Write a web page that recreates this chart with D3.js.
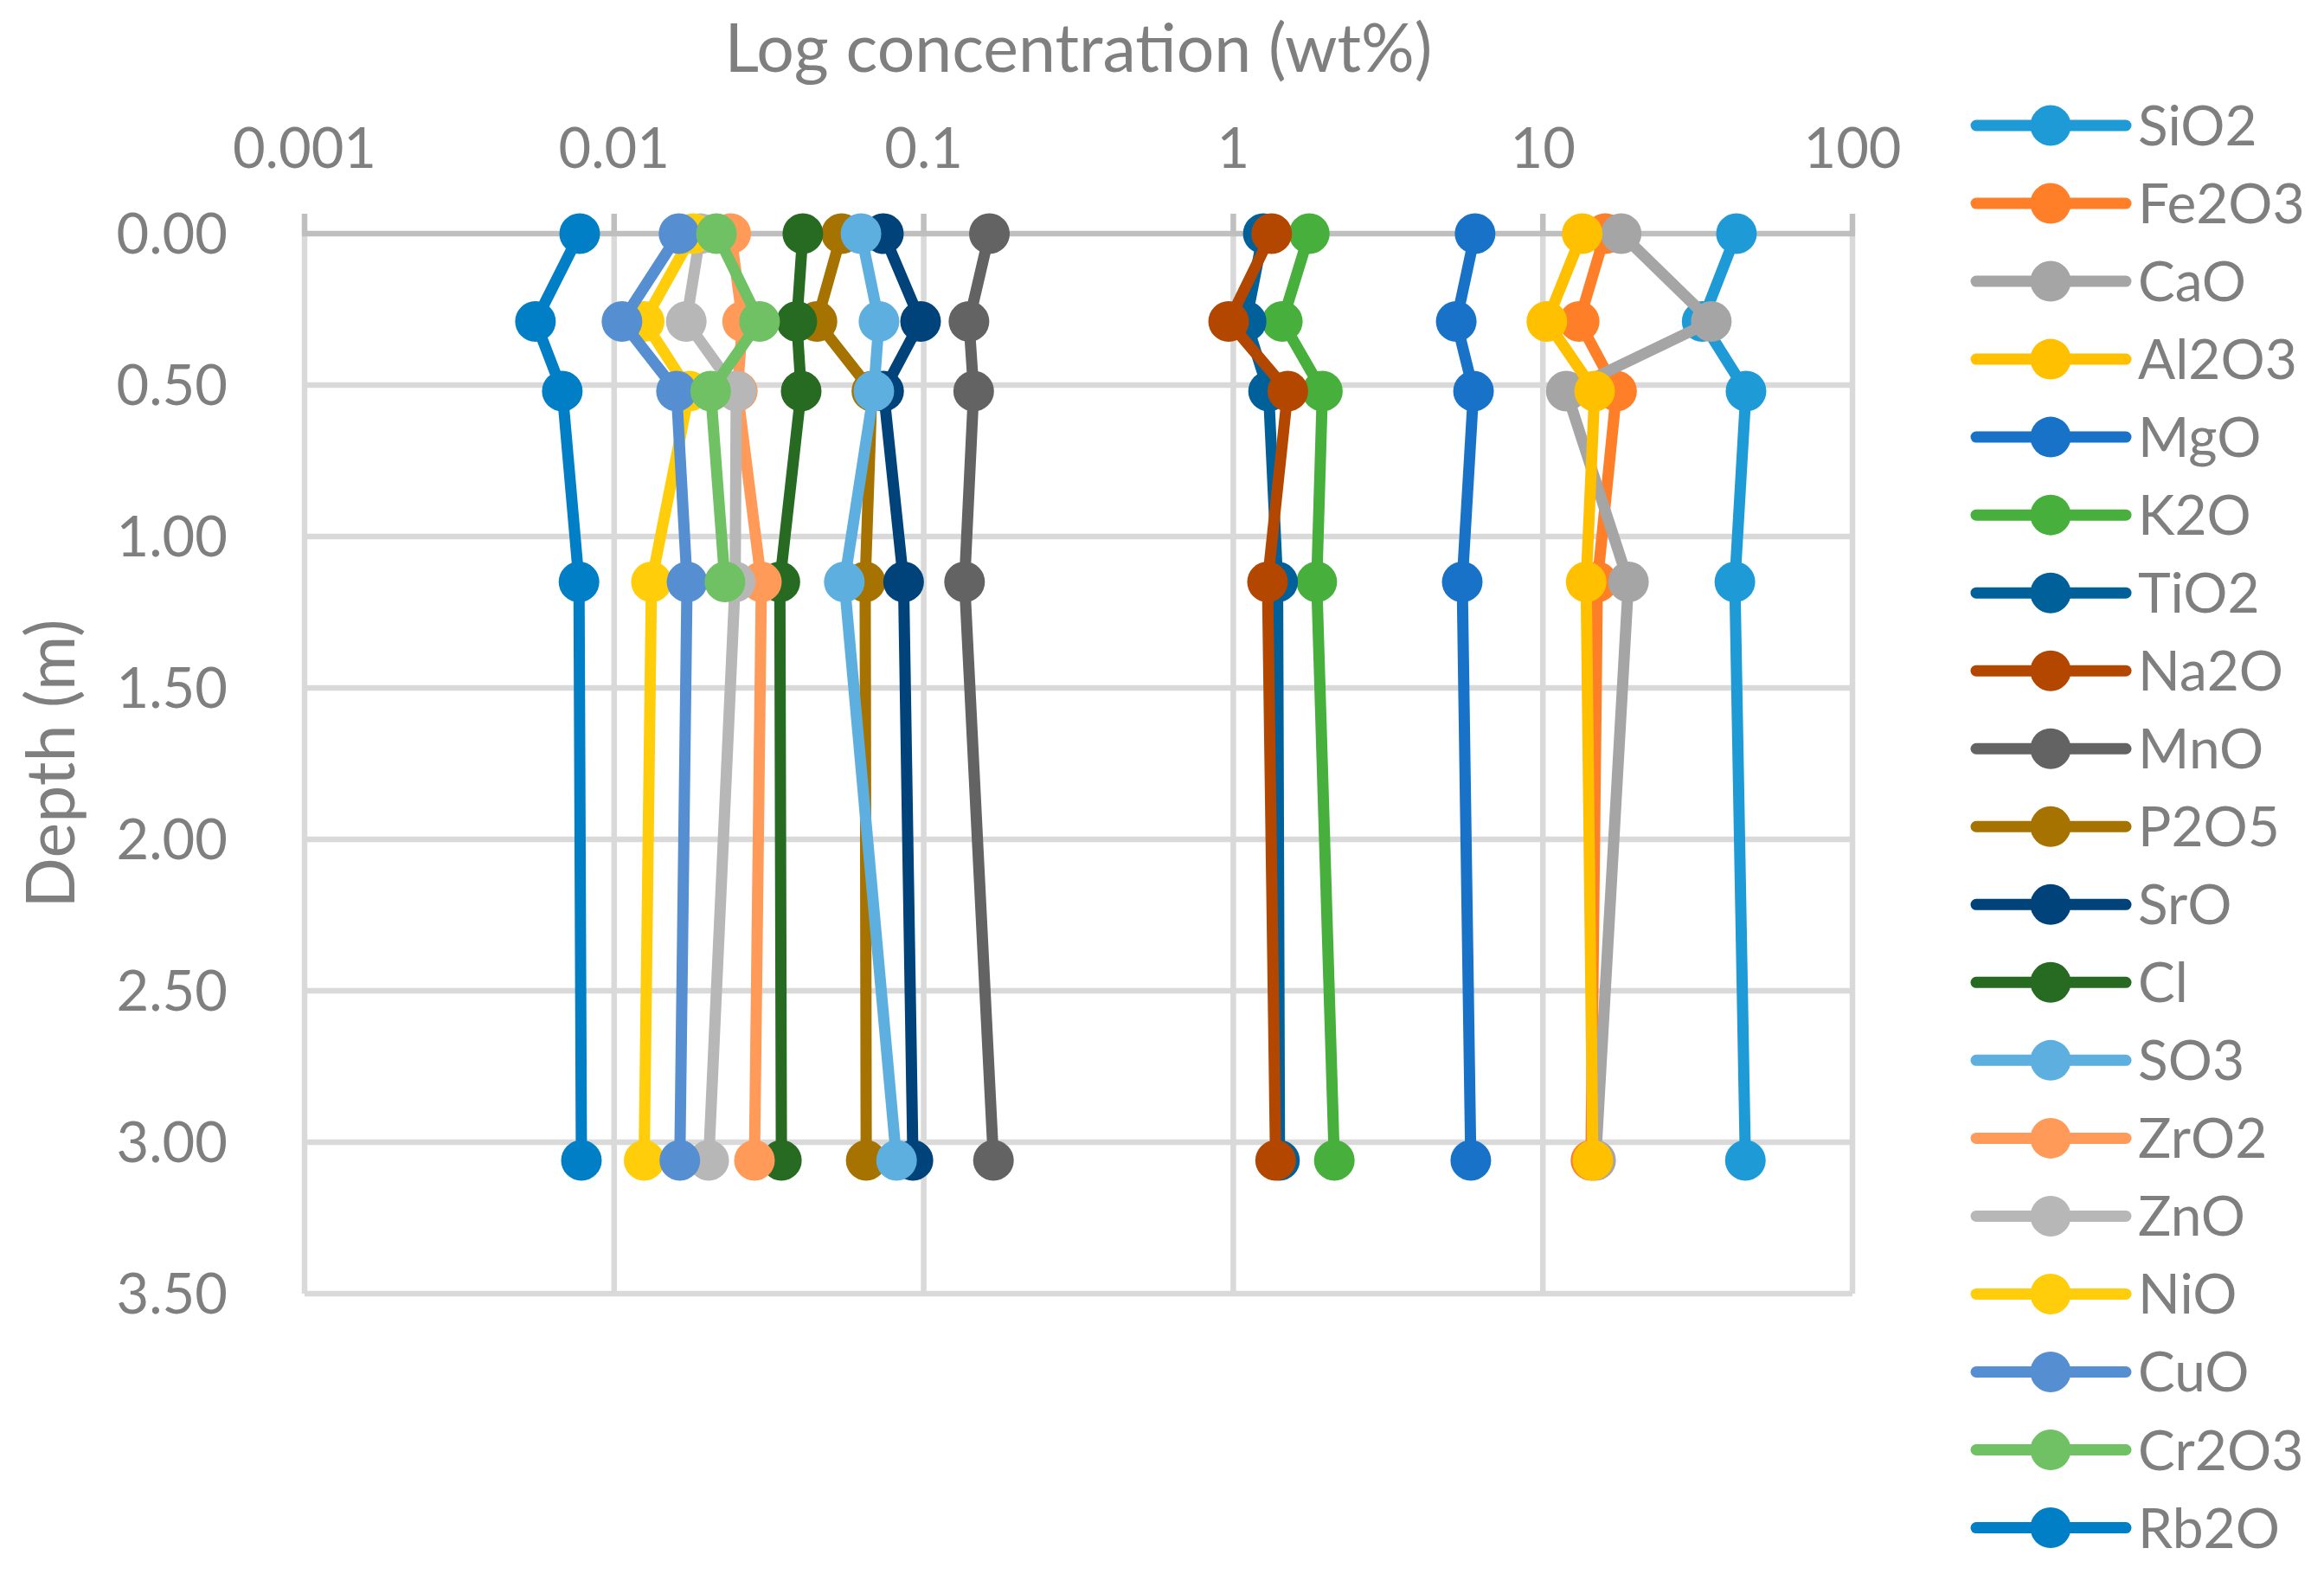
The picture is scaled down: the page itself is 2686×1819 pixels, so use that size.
<!DOCTYPE html>
<html>
<head>
<meta charset="utf-8">
<script src="https://cdn.jsdelivr.net/npm/d3@7"></script>
<style>
  body { margin: 0; background: #fff; }
  text { font-family: Lato, "Open Sans", sans-serif; fill: #7f7f7f; }
</style>
</head>
<body>
<div id="vis"></div>
<script>
// depths of the samples (m)
const depths = [0, 0.29, 0.52, 1.15, 3.06];

// concentrations (wt%) read per depth
const SiO2  = [42.2, 32.7, 45.3, 41.7, 45.1];
const Fe2O3 = [15.9, 13.1, 17.3, 15.0, 14.3];
const CaO   = [17.9, 35.0, 11.9, 18.9, 14.8];
const Al2O3 = [13.4, 10.3, 14.7, 13.8, 14.5];
const MgO   = [6.04, 5.25, 5.97, 5.49, 5.85];
const K2O   = [1.76, 1.44, 1.94, 1.86, 2.12];
const TiO2  = [1.25, 1.10, 1.30, 1.39, 1.41];
const Na2O  = [1.33, 0.966, 1.50, 1.29, 1.37];
const MnO   = [0.163, 0.140, 0.145, 0.1355, 0.168];
const P2O5  = [0.0543, 0.0452, 0.068, 0.0647, 0.0652];
const SrO   = [0.0741, 0.0977, 0.0742, 0.0861, 0.0923];
const Cl    = [0.0407, 0.0389, 0.0402, 0.0343, 0.0347];
const SO3   = [0.0627, 0.0717, 0.069, 0.0554, 0.0817];
const ZrO2  = [0.0238, 0.026, 0.025, 0.0299, 0.0284];
const ZnO   = [0.019, 0.0171, 0.0248, 0.0246, 0.0202];
const NiO   = [0.018, 0.0125, 0.0175, 0.0132, 0.0125];
const CuO   = [0.0162, 0.0106, 0.0159, 0.0172, 0.0163];
const Cr2O3 = [0.0214, 0.0295, 0.0205, 0.0228, null];
const Rb2O  = [0.00774, 0.00557, 0.0068, 0.0077, 0.00784];

const names = ["SiO2", "Fe2O3", "CaO", "Al2O3", "MgO", "K2O", "TiO2", "Na2O", "MnO",
  "P2O5", "SrO", "Cl", "SO3", "ZrO2", "ZnO", "NiO", "CuO", "Cr2O3", "Rb2O"];
const values = [SiO2, Fe2O3, CaO, Al2O3, MgO, K2O, TiO2, Na2O, MnO,
  P2O5, SrO, Cl, SO3, ZrO2, ZnO, NiO, CuO, Cr2O3, Rb2O];
const colors = ["#1e9bd7", "#fe7f28", "#a5a5a5", "#ffc000", "#1873c8", "#47af3c",
  "#00609a", "#b34700", "#636363", "#a67300", "#00437a", "#276a22", "#5dafe0",
  "#ff9a58", "#b7b7b7", "#ffcd0a", "#558fd2", "#6fc164", "#007fc6"];

const xTicks = [0.001, 0.01, 0.1, 1, 10, 100];
const yTicks = [0, 0.5, 1, 1.5, 2, 2.5, 3, 3.5];

let width = 2686, height = 1819;

let svg = d3.select('#vis')
  .append('svg')
  .attr('width', width)
  .attr('height', height)
  .style('background-color', '#fff');

// scales
const x = d3.scaleLog().domain([0.001, 100]).range([352, 2141]);
const y = d3.scaleLinear().domain([0, 3.5]).range([270, 1495]);

// gridlines
svg.append("g")
  .selectAll("line")
  .data(xTicks.slice(1))
  .join("line")
    .attr("x1", d => x(d)).attr("x2", d => x(d))
    .attr("y1", y(0)).attr("y2", y(3.5))
    .attr("stroke", "#d9d9d9")
    .attr("stroke-width", 6.5);
svg.append("g")
  .selectAll("line")
  .data(yTicks.slice(1))
  .join("line")
    .attr("x1", x(0.001)).attr("x2", x(100))
    .attr("y1", d => y(d)).attr("y2", d => y(d))
    .attr("stroke", "#d9d9d9")
    .attr("stroke-width", 6.5);

// left axis line
svg.append("line")
  .attr("x1", x(0.001)).attr("x2", x(0.001))
  .attr("y1", y(0)).attr("y2", y(3.5))
  .attr("stroke", "#d9d9d9")
  .attr("stroke-width", 6.5);

// top axis line + tick marks
svg.append("line")
  .attr("x1", x(0.001) - 3).attr("x2", x(100) + 3)
  .attr("y1", y(0)).attr("y2", y(0))
  .attr("stroke", "#bfbfbf")
  .attr("stroke-width", 6.5);
svg.append("g")
  .selectAll("line")
  .data(xTicks)
  .join("line")
    .attr("x1", d => x(d)).attr("x2", d => x(d))
    .attr("y1", y(0) - 23).attr("y2", y(0))
    .attr("stroke", "#bfbfbf")
    .attr("stroke-width", 6.5);

// tick labels
svg.append("g")
  .selectAll("text")
  .data(xTicks)
  .join("text")
    .attr("x", d => x(d))
    .attr("y", 194)
    .attr("text-anchor", "middle")
    .style("font-size", "65px")
    .text(d => d3.format("~g")(d));
svg.append("g")
  .selectAll("text")
  .data(yTicks)
  .join("text")
    .attr("x", 263)
    .attr("y", d => y(d) + 23)
    .attr("text-anchor", "end")
    .style("font-size", "65px")
    .text(d => d3.format(".2f")(d));

// axis titles
svg.append("text")
  .attr("x", (x(0.001) + x(100)) / 2)
  .attr("y", 83)
  .attr("text-anchor", "middle")
  .style("font-size", "77px")
  .text("Log concentration (wt%)");
svg.append("text")
  .attr("transform", `translate(86, ${(y(0) + y(3.5)) / 2}) rotate(-90)`)
  .attr("text-anchor", "middle")
  .style("font-size", "77px")
  .text("Depth (m)");

// series lines and markers
const line = d3.line()
  .defined(d => d.v != null)
  .x(d => x(d.v))
  .y(d => y(d.depth));

names.forEach(function(name, i) {
  let pts = depths.map((dep, j) => ({ depth: dep, v: values[i][j] }));
  let g = svg.append("g");
  g.append("path")
    .datum(pts)
    .attr("fill", "none")
    .attr("stroke", colors[i])
    .attr("stroke-width", 13)
    .attr("stroke-linejoin", "round")
    .attr("stroke-linecap", "round")
    .attr("d", line);
  g.selectAll("circle")
    .data(pts.filter(d => d.v != null))
    .join("circle")
      .attr("cx", d => x(d.v))
      .attr("cy", d => y(d.depth))
      .attr("r", 23.5)
      .attr("fill", colors[i]);
});

// legend
let legend = svg.append("g")
  .selectAll("g")
  .data(names)
  .join("g")
    .attr("transform", (d, i) => `translate(0, ${145 + i * 90.03})`);
legend.append("line")
  .attr("x1", 2284).attr("x2", 2457)
  .attr("stroke", (d, i) => colors[i])
  .attr("stroke-width", 13)
  .attr("stroke-linecap", "round");
legend.append("circle")
  .attr("cx", 2370)
  .attr("r", 23.5)
  .attr("fill", (d, i) => colors[i]);
legend.append("text")
  .attr("x", 2471)
  .attr("y", 23)
  .style("font-size", "64px")
  .text(d => d);
</script>
</body>
</html>
